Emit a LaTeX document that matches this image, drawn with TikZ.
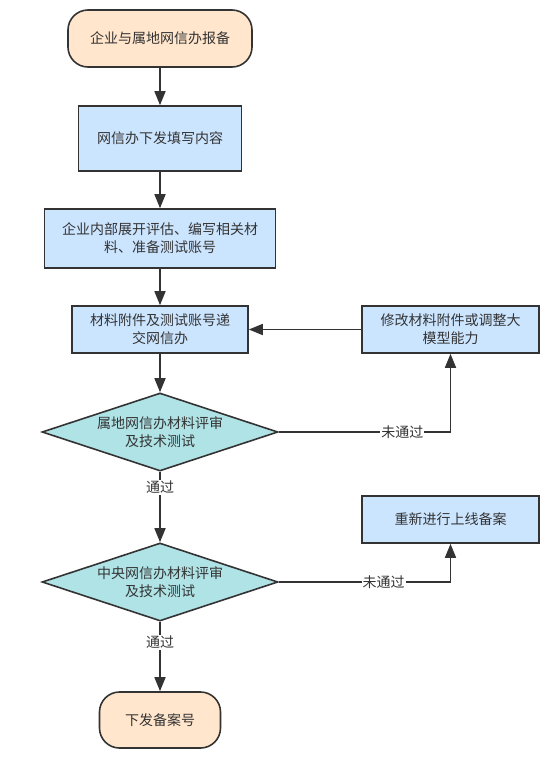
\documentclass[tikz,border=0pt]{standalone}
\usepackage{fontspec}
\setmainfont{Noto Sans CJK SC}
\usetikzlibrary{shapes.geometric,arrows.meta}
\definecolor{termfill}{HTML}{FFE6CC}
\definecolor{boxfill}{HTML}{CCE5FF}
\definecolor{decfill}{HTML}{B0E3E6}
\definecolor{strokec}{HTML}{333333}
\definecolor{textc}{HTML}{333333}
\tikzset{
  base/.style={draw=strokec, line width=1.6pt, text=textc, align=center,
    font=\fontsize{14}{18}\selectfont, inner sep=0pt},
  term/.style={base, fill=termfill, rounded corners=20pt},
  procbox/.style={base, fill=boxfill, rectangle},
  decision/.style={base, fill=decfill, diamond, aspect=3},
  conn/.style={draw=strokec, line width=1.6pt, -{Triangle[length=14pt,width=11pt]}},
  lbl/.style={fill=white, text=textc, font=\fontsize{14}{18}\selectfont, inner sep=1pt}
}
\begin{document}
\begin{tikzpicture}[x=1pt,y=-1pt]
\useasboundingbox (0,0) rectangle (553,758);
\node[term, minimum width=184pt, minimum height=57pt] (start) at (160,38.5) {企业与属地网信办报备};
\node[procbox, minimum width=163pt, minimum height=65pt] (b2) at (160,138.5) {网信办下发填写内容};
\node[procbox, minimum width=231pt, minimum height=59pt] (b3) at (160,238.5) {企业内部展开评估、编写相关材\\料、准备测试账号};
\node[procbox, minimum width=176pt, minimum height=47pt] (b4) at (160,329.5) {材料附件及测试账号递\\交网信办};
\node[procbox, minimum width=177pt, minimum height=47pt] (mod) at (450.5,329.5) {修改材料附件或调整大\\模型能力};
\node[decision, minimum width=236pt, minimum height=78pt] (d1) at (160,432) {属地网信办材料评审\\及技术测试};
\node[procbox, minimum width=177pt, minimum height=47pt] (redo) at (450.5,519.5) {重新进行上线备案};
\node[decision, minimum width=236pt, minimum height=78pt] (d2) at (160,582) {中央网信办材料评审\\及技术测试};
\node[term, minimum width=121pt, minimum height=56pt] (fin) at (160,720) {下发备案号};

\draw[conn] (start) -- (b2);
\draw[conn] (b2) -- (b3);
\draw[conn] (b3) -- (b4);
\draw[conn] (b4) -- (d1);
\draw[conn] (mod) -- (b4);
\draw[conn] (d1.east) -| node[lbl, pos=0.36] {未通过} (mod.south);
\draw[conn] (d1) -- node[lbl, pos=0.22] {通过} (d2);
\draw[conn] (d2.east) -| node[lbl, pos=0.305] {未通过} (redo.south);
\draw[conn] (d2) -- node[lbl, pos=0.3] {通过} (fin);
\end{tikzpicture}
\end{document}
